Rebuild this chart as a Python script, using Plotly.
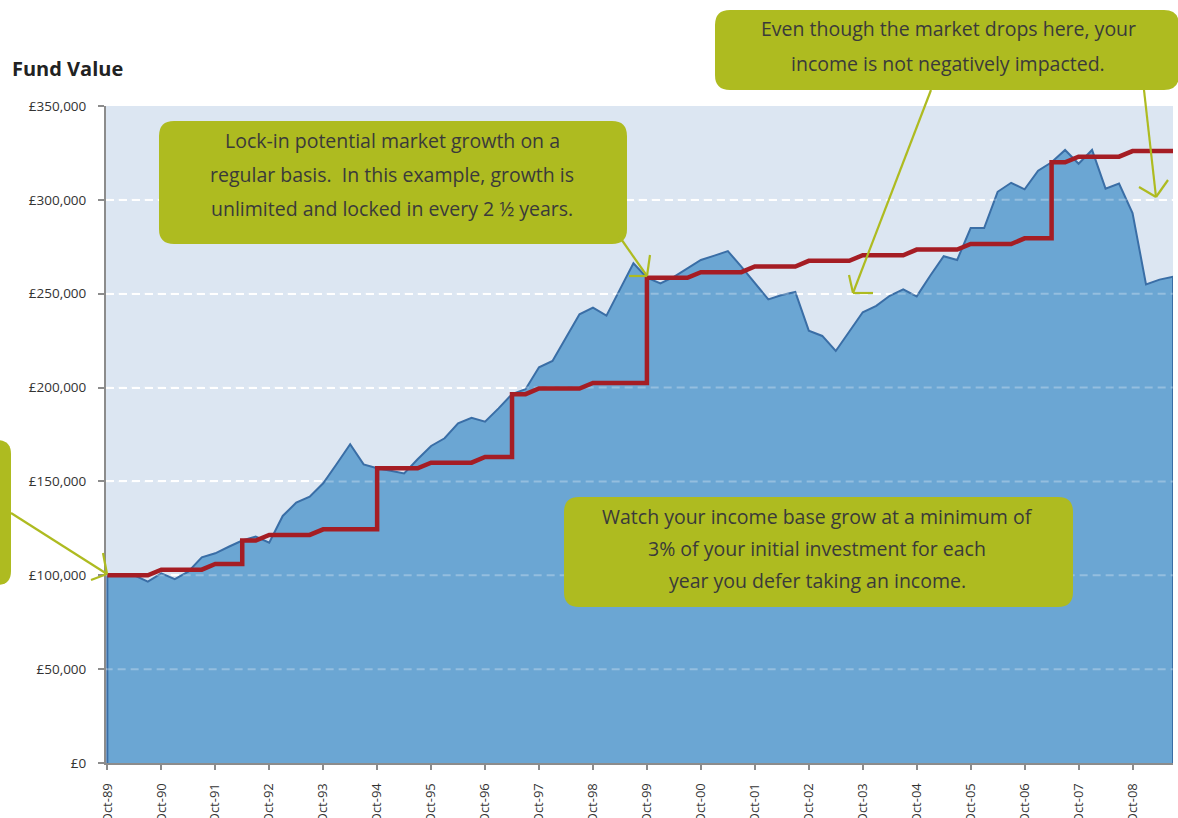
import plotly.graph_objects as go

# ---------------- data (quarterly, Oct-89 .. Jul-09) ----------------
tick_labels = ["Oct-89", "Oct-90", "Oct-91", "Oct-92", "Oct-93", "Oct-94", "Oct-95",
               "Oct-96", "Oct-97", "Oct-98", "Oct-99", "Oct-00", "Oct-01", "Oct-02",
               "Oct-03", "Oct-04", "Oct-05", "Oct-06", "Oct-07", "Oct-08"]

fund_value = [
    100000, 100000, 100000, 96600, 101000, 97900, 101900, 109600, 111700, 115200,
    118500, 120600, 117400, 131600, 138700, 141900, 149000, 159300, 169800, 159100,
    157000, 155700, 154300, 161800, 168900, 173000, 181000, 183900, 181800, 188900,
    196500, 199100, 210800, 214200, 226600, 239000, 242600, 238300, 252300, 266200,
    258500, 255500, 259000, 263500, 268000, 270300, 272700, 264400, 255500, 247000,
    249300, 250900, 230300, 227500, 219500, 229800, 240100, 243500, 248900, 252300,
    248600, 259600, 270000, 268000, 285000, 285000, 304300, 309100, 305600, 315500,
    320000, 326600, 319200, 326600, 306000, 308700, 293000, 255000, 257500, 259000,
]

# income base vertices (quarter index, value); repeated quarter = lock-in jump
income_q = [0, 3, 4, 7, 8, 10, 10, 11, 12, 15, 16, 20, 20, 23, 24, 27, 28, 30, 30,
            31, 32, 35, 36, 40, 40, 43, 44, 47, 48, 51, 52, 55, 56, 59, 60, 63, 64,
            67, 68, 70, 70, 71, 72, 75, 76, 79]
income_value = [100000, 100000, 103000, 103000, 106000, 106000, 118500, 118500,
                121500, 121500, 124500, 124500, 157000, 157000, 160000, 160000,
                163000, 163000, 196500, 196500, 199500, 199500, 202500, 202500,
                258500, 258500, 261500, 261500, 264500, 264500, 267500, 267500,
                270500, 270500, 273500, 273500, 276500, 276500, 279500, 279500,
                320000, 320000, 323000, 323000, 326000, 326000]

y_ticks = [0, 50000, 100000, 150000, 200000, 250000, 300000, 350000]
y_tick_labels = ["\u00a3" + f"{v:,}" for v in y_ticks]

box1_lines = ["Lock-in potential market growth on a",
              "regular basis.  In this example, growth is",
              "unlimited and locked in every 2 \u00bd years."]
box2_lines = ["Even though the market drops here, your",
              "income is not negatively impacted."]
box3_lines = ["Watch your income base grow at a minimum of",
              "3% of your initial investment for each",
              "year you defer taking an income."]

# ---------------- layout geometry ----------------
W, H = 1178, 818
L, R, T, B = 106, 1173, 106, 763
PW, PH = R - L, B - T

def pxx(x):
    return (x - L) / PW

def pxy(y):
    return (B - y) / PH

OLIVE = "#AEBB20"
TEXT = "#3A3A3A"
FONT = "Open Sans"

n = len(fund_value)
qx = list(range(n))

fig = go.Figure()

# fund value area (closed outline incl. vertical ends)
fig.add_trace(go.Scatter(
    x=[qx[0]] + qx + [qx[-1]], y=[0] + fund_value + [0],
    mode="lines", fill="toself", fillcolor="#6BA6D3",
    line=dict(color="#3A6EA6", width=2), hoverinfo="skip", showlegend=False))

# faint gridlines visible over the area
for v in y_ticks[1:-1]:
    fig.add_trace(go.Scatter(
        x=[-0.2, n - 1], y=[v, v], mode="lines",
        line=dict(color="rgba(255,255,255,0.28)", width=2, dash="8px,5px"),
        hoverinfo="skip", showlegend=False))

# income base
fig.add_trace(go.Scatter(
    x=income_q, y=income_value, mode="lines",
    line=dict(color="#A51D24", width=4.5), hoverinfo="skip", showlegend=False))

# ---------------- shapes: boxes and arrows ----------------
def rounded_box(x0, y0, x1, y1, r):
    pts = [
        ("M", x0 + r, y0), ("L", x1 - r, y0), ("Q", x1, y0, x1, y0 + r),
        ("L", x1, y1 - r), ("Q", x1, y1, x1 - r, y1), ("L", x0 + r, y1),
        ("Q", x0, y1, x0, y1 - r), ("L", x0, y0 + r), ("Q", x0, y0, x0 + r, y0),
    ]
    s = ""
    for p in pts:
        cmd = p[0]
        coords = p[1:]
        parts = []
        for i in range(0, len(coords), 2):
            parts.append(f"{pxx(coords[i]):.5f},{pxy(coords[i+1]):.5f}")
        s += cmd + " " + " ".join(parts) + " "
    return dict(type="path", path=s + "Z", xref="paper", yref="paper",
                fillcolor=OLIVE, line=dict(width=0), layer="above")

shapes = [
    rounded_box(-60, 440, 11, 585, 14),
    rounded_box(159, 121, 627, 244, 15),
    rounded_box(715, 10, 1179, 90, 15),
    rounded_box(564, 497, 1073, 607, 15),
]

def seg(x0, y0, x1, y1):
    return dict(type="line", xref="paper", yref="paper",
                x0=pxx(x0), y0=pxy(y0), x1=pxx(x1), y1=pxy(y1),
                line=dict(color=OLIVE, width=2.2), layer="above")

# arrow 1 (left box -> start)
shapes += [seg(11, 513, 107, 574), seg(103, 553, 107, 574), seg(91, 580, 107, 574)]
# arrow 2 (box1 -> Oct-99 lock-in)
shapes += [seg(619, 236, 647, 276), seg(629, 276, 647, 276), seg(650, 255, 647, 276)]
# arrow 3 (box2 -> 2002/03 dip)
shapes += [seg(931, 90, 853, 293), seg(849, 275, 853, 293), seg(873, 293, 853, 293)]
# arrow 4 (box2 -> 2008 drop)
shapes += [seg(1144, 90, 1156, 197), seg(1139, 187, 1156, 197), seg(1168, 180, 1156, 197)]

annotations = []

def add_lines(lines, cx, y_first, step, size=19.5):
    for k, t in enumerate(lines):
        annotations.append(dict(
            text=t, x=pxx(cx), y=pxy(y_first + k * step), xref="paper", yref="paper",
            xanchor="center", yanchor="middle", showarrow=False,
            font=dict(family=FONT, size=size, color=TEXT)))

add_lines(box1_lines, 392, 140, 34)
add_lines(box2_lines, 948, 29, 35)
add_lines(box3_lines, 817, 516, 32)

annotations.append(dict(
    text="<b>Fund Value</b>", x=pxx(10), y=pxy(69), xref="paper", yref="paper",
    xanchor="left", yanchor="middle", showarrow=False,
    font=dict(family=FONT, size=20, color="#222222")))

fig.update_layout(
    template="none",
    width=W, height=H,
    margin=dict(l=L, r=W - R, t=T, b=H - B, pad=0, autoexpand=False),
    paper_bgcolor="white", plot_bgcolor="#DCE6F2",
    shapes=shapes, annotations=annotations, showlegend=False,
    font=dict(family=FONT, size=13, color="#333333"),
)

fig.update_xaxes(
    range=[-0.1, n - 1], tickvals=[4 * k for k in range(len(tick_labels))],
    ticktext=tick_labels, tickangle=-90, showgrid=False, zeroline=False,
    showline=True, linecolor="#8C8C8C", linewidth=2, ticks="outside",
    ticklen=5, tickwidth=2, tickcolor="#8C8C8C", automargin=False,
    ticklabelstandoff=8,
    tickfont=dict(family=FONT, size=13, color="#333333"), fixedrange=True)

fig.update_yaxes(
    range=[0, 350000], tickvals=y_ticks, ticktext=y_tick_labels,
    showgrid=True, gridcolor="white", gridwidth=2, griddash="8px,5px",
    zeroline=False, showline=True, linecolor="#8C8C8C", linewidth=2,
    ticks="outside", ticklen=6, tickwidth=2, tickcolor="#8C8C8C",
    ticklabelstandoff=9,
    automargin=False, tickfont=dict(family=FONT, size=13.5, color="#333333"),
    fixedrange=True)

fig.write_html("out.html", config={"displayModeBar": False},
               post_script="document.body.style.margin='0';")
